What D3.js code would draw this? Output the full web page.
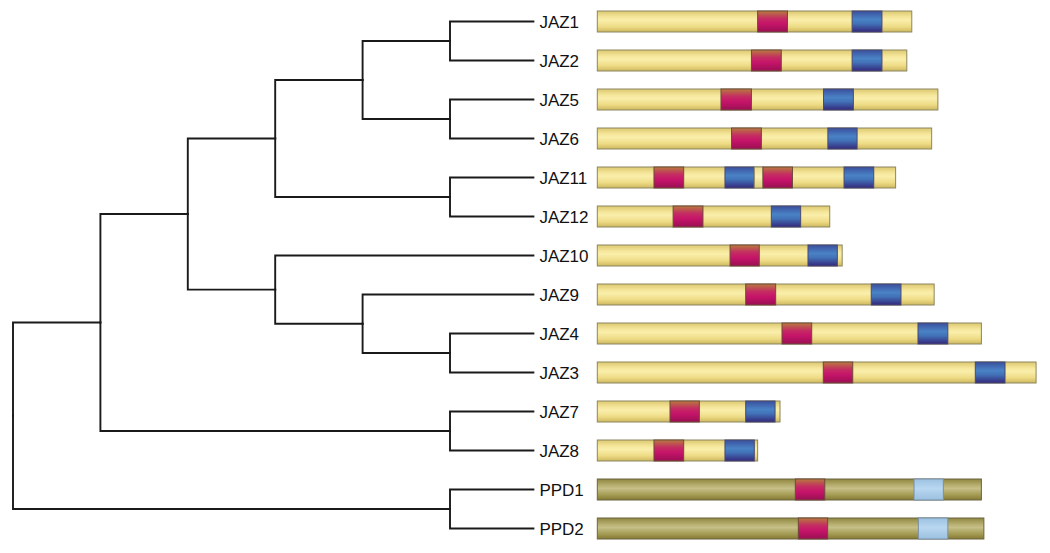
<!DOCTYPE html>
<html>
<head>
<meta charset="utf-8">
<script src="https://cdn.jsdelivr.net/npm/d3@7"></script>
<style>
  html, body { margin: 0; padding: 0; background: #ffffff; }
  svg { display: block; }
</style>
</head>
<body>
<svg id="chart" width="1050" height="553"></svg>
<script>
// ---- Data ----
// Tree topology (leaf order top to bottom)
const tree = [[[[[["JAZ1", "JAZ2"], ["JAZ5", "JAZ6"]], ["JAZ11", "JAZ12"]],
               ["JAZ10", ["JAZ9", ["JAZ4", "JAZ3"]]]],
              ["JAZ7", "JAZ8"]],
             ["PPD1", "PPD2"]];

// Protein names and lengths (amino acids)
const proteins = ["JAZ1", "JAZ2", "JAZ5", "JAZ6", "JAZ11", "JAZ12", "JAZ10",
                  "JAZ9", "JAZ4", "JAZ3", "JAZ7", "JAZ8", "PPD1", "PPD2"];
const lengths  = [253, 249, 274, 269, 240, 187, 197, 271, 309, 353, 147, 129, 309, 311];
const bodyType = ["jaz", "jaz", "jaz", "jaz", "jaz", "jaz", "jaz",
                  "jaz", "jaz", "jaz", "jaz", "jaz", "ppd", "ppd"];

// Domains: [protein, type, start, end] (amino acids)
const domains = [
  ["JAZ1", "tify", 129, 153], ["JAZ1", "jas", 205, 229],
  ["JAZ2", "tify", 124, 148], ["JAZ2", "jas", 205, 229],
  ["JAZ5", "tify", 99.5, 124], ["JAZ5", "jas", 182, 206],
  ["JAZ6", "tify", 108, 132], ["JAZ6", "jas", 185.5, 209],
  ["JAZ11", "tify", 45.6, 69.5], ["JAZ11", "jas", 102.7, 126.3],
  ["JAZ11", "gap", 126.3, 133.3],
  ["JAZ11", "tify", 133.3, 157], ["JAZ11", "jas", 198.5, 222.4],
  ["JAZ12", "tify", 61, 85], ["JAZ12", "jas", 140, 163.6],
  ["JAZ10", "tify", 106.8, 130.3], ["JAZ10", "jas", 169.5, 193.1],
  ["JAZ9", "tify", 119.4, 143.5], ["JAZ9", "jas", 220.4, 244.3],
  ["JAZ4", "tify", 148.6, 172.5], ["JAZ4", "jas", 258, 282],
  ["JAZ3", "tify", 181.8, 205.5], ["JAZ3", "jas", 304.1, 328],
  ["JAZ7", "tify", 58.5, 82.1], ["JAZ7", "jas", 119.4, 143],
  ["JAZ8", "tify", 45.6, 69.5], ["JAZ8", "jas", 102.7, 126.3],
  ["PPD1", "tify", 159.3, 183], ["PPD1", "ppdjas", 254.8, 278.4],
  ["PPD2", "tify", 161.7, 185.3], ["PPD2", "ppdjas", 258.3, 282]
];

// ---- Drawing ----
const svg = d3.select("#chart");
const defs = svg.append("defs");

function vGrad(id, stops) {
  const g = defs.append("linearGradient").attr("id", id)
    .attr("x1", 0).attr("y1", 0).attr("x2", 0).attr("y2", 1);
  stops.forEach(([o, c]) => g.append("stop").attr("offset", o).attr("stop-color", c));
}
vGrad("g-jaz",   [[0, "#dcc870"], [0.3, "#f6e79c"], [0.45, "#f9eeaa"], [0.75, "#eedb85"], [1, "#cdb85e"]]);
vGrad("g-ppd",   [[0, "#8f8640"], [0.3, "#b7af70"], [0.45, "#c6bf88"], [0.75, "#a59c55"], [1, "#857a34"]]);
vGrad("g-tify",  [[0, "#b87a3e"], [0.35, "#c42d62"], [0.6, "#c6146a"], [1, "#9a0f52"]]);
vGrad("g-jas",   [[0, "#3a4f9c"], [0.4, "#4a82c6"], [0.6, "#4272b8"], [1, "#34287a"]]);
vGrad("g-ppdjas",[[0, "#9cc2e2"], [0.45, "#b9d7f0"], [1, "#9bc0e0"]]);
vGrad("g-gap",   [[0, "#e8d98e"], [0.45, "#fbf2b8"], [1, "#dccb7a"]]);

const fills = { jaz: "url(#g-jaz)", ppd: "url(#g-ppd)", tify: "url(#g-tify)",
                jas: "url(#g-jas)", ppdjas: "url(#g-ppdjas)", gap: "url(#g-gap)" };
const strokes = { jaz: "#8c8560", ppd: "#6b6540", tify: "#6e4a3a", jas: "#4a4a70",
                  ppdjas: "#7890a8", gap: "#8c8560" };

// Tree layout
function toHier(n) {
  return Array.isArray(n) ? { children: n.map(toHier) } : { name: n };
}
const root = d3.hierarchy(toHier(tree));
const rowStep = 39;
const cluster = d3.cluster()
  .separation(() => 1)
  .size([rowStep * proteins.length, 524.4]);
cluster(root);

const yOffset = 2;     // vertical shift of the whole figure
const xOffset = 13;    // left edge of the root
const leafTrim = 4;    // leaf branches stop short of the label

const yOf = d => d.x + yOffset;
const xOf = d => d.y + xOffset;

// Branches (elbow connectors)
const gTree = svg.append("g");
gTree.selectAll("path.link")
  .data(root.links())
  .join("path")
  .attr("class", "link")
  .attr("fill", "none")
  .attr("stroke", "#1a1a1a")
  .attr("stroke-width", 1.9)
  .attr("stroke-linecap", "square")
  .attr("d", l => {
    const tx = xOf(l.target) - (l.target.children ? 0 : leafTrim);
    return `M${xOf(l.source)},${yOf(l.source)}V${yOf(l.target)}H${tx}`;
  });

// Leaf labels
const leaves = root.leaves();
const leafY = new Map(leaves.map(d => [d.data.name, yOf(d)]));

svg.append("g").selectAll("text")
  .data(leaves)
  .join("text")
  .attr("x", d => xOf(d) + 2)
  .attr("y", d => yOf(d))
  .attr("dy", "0.36em")
  .attr("font-family", "Arial, 'Liberation Sans', Helvetica, sans-serif")
  .attr("font-size", 17)
  .attr("fill", "#111111")
  .text(d => d.data.name);

// Protein bars
const x = d3.scaleLinear().domain([0, 360]).range([597.3, 597.3 + 360 * 1.243]);
const barH = 21;

const gBars = svg.append("g");
gBars.selectAll("rect.body")
  .data(proteins.map((p, i) => ({ name: p, len: lengths[i], type: bodyType[i] })))
  .join("rect")
  .attr("class", "body")
  .attr("x", x(0))
  .attr("y", d => leafY.get(d.name) - barH / 2)
  .attr("width", d => x(d.len) - x(0))
  .attr("height", barH)
  .attr("fill", d => fills[d.type])
  .attr("stroke", d => strokes[d.type])
  .attr("stroke-width", 1);

gBars.selectAll("rect.dom")
  .data(domains.map(([p, t, s, e]) => ({ name: p, type: t, s, e })))
  .join("rect")
  .attr("class", "dom")
  .attr("x", d => x(d.s))
  .attr("y", d => leafY.get(d.name) - barH / 2)
  .attr("width", d => x(d.e) - x(d.s))
  .attr("height", barH)
  .attr("fill", d => fills[d.type])
  .attr("stroke", d => strokes[d.type])
  .attr("stroke-width", 1);
</script>
</body>
</html>
